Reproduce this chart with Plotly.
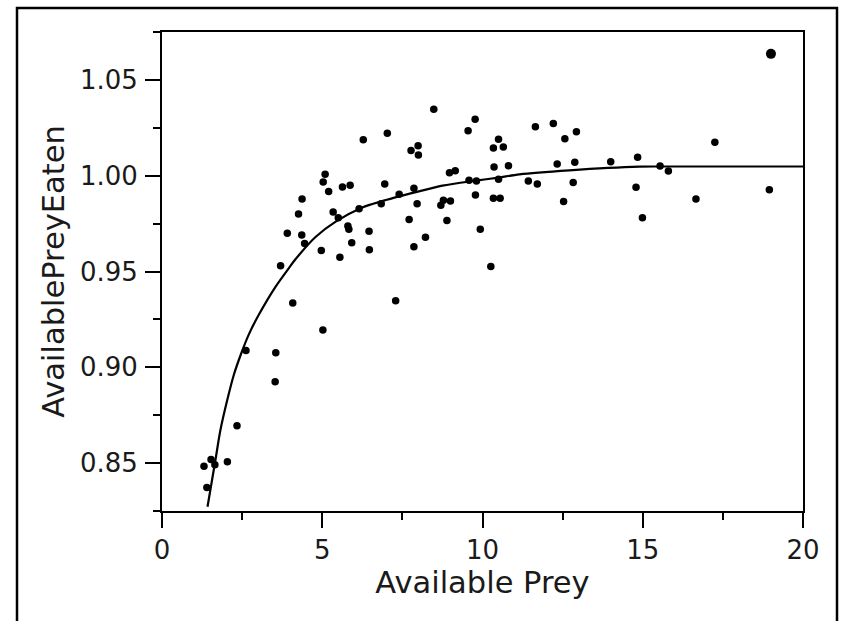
import plotly.graph_objects as go

# Scatter data: Available Prey (x) vs AvailablePreyEaten (y)
prey = [3.70, 3.91, 4.36, 4.45, 4.26, 4.37, 4.97, 5.55, 5.03, 5.09, 5.20, 5.34, 5.50, 5.63, 5.87,
        5.80, 5.83, 5.92, 6.15, 6.28, 6.46, 6.47, 6.95, 7.03, 6.84, 7.40, 7.86, 7.77, 7.99, 8.00,
        7.96, 7.71, 7.86, 8.22, 8.48, 8.70, 8.78, 9.00, 8.89, 8.97, 9.15, 9.55, 9.77, 9.58, 9.81,
        9.78, 9.93,
        10.26, 10.34, 10.50, 10.65, 10.36, 10.81, 10.50, 10.34, 10.55, 11.43, 11.71, 11.65, 12.21,
        12.57, 12.93, 12.33, 12.88, 12.83, 12.53, 14.00, 14.84, 14.79, 14.99, 15.54, 15.80, 16.66,
        17.25, 18.95, 19.00,
        1.31, 1.40, 1.53, 1.65, 2.04, 2.34, 2.62, 3.55, 3.53, 4.08, 5.02, 7.29]
eaten = [0.9530, 0.9700, 0.9690, 0.9646, 0.9800, 0.9879, 0.9610, 0.9575, 0.9967, 1.0007, 0.9917,
         0.9810, 0.9780, 0.9941, 0.9950, 0.9738, 0.9720, 0.9650, 0.9827, 1.0188, 0.9710, 0.9613,
         0.9957, 1.0221, 0.9854, 0.9903, 0.9934, 1.0132, 1.0156, 1.0108, 0.9854, 0.9771, 0.9629,
         0.9679, 1.0347, 0.9846, 0.9872, 0.9868, 0.9766, 1.0016, 1.0026, 1.0234, 1.0294, 0.9976,
         0.9972, 0.9899, 0.9720,
         0.9526, 1.0144, 1.0190, 1.0150, 1.0045, 1.0052, 0.9981, 0.9882, 0.9882, 0.9972, 0.9957,
         1.0255, 1.0273, 1.0193, 1.0229, 1.0061, 1.0070, 0.9964, 0.9865, 1.0073, 1.0096, 0.9940,
         0.9780, 1.0051, 1.0025, 0.9879, 1.0174, 0.9927, 1.0636,
         0.8484, 0.8372, 0.8519, 0.8491, 0.8507, 0.8695, 0.9088, 0.9076, 0.8925, 0.9335, 0.9195,
         0.9347]
highlighted = [19.00]  # the enlarged point

# Fitted curve
fit_x = [1.42, 1.67, 1.82, 2.03, 2.24, 2.50, 2.71, 3.02, 3.54, 3.96, 4.17, 4.79, 5.42, 6.25,
         6.84, 7.92, 8.75, 9.79, 10.50, 11.15, 12.71, 14.90, 15.54, 20.00]
fit_y = [0.8272, 0.8519, 0.8670, 0.8825, 0.8960, 0.9085, 0.9172, 0.9274, 0.9420, 0.9518, 0.9565,
         0.9680, 0.9760, 0.9834, 0.9866, 0.9914, 0.9948, 0.9974, 0.9990, 1.0007, 1.0028, 1.0047,
         1.0048, 1.0048]

x_ticks = [0, 5, 10, 15, 20]
y_ticks = [0.85, 0.90, 0.95, 1.00, 1.05]

sizes = [10 if x in highlighted else 7.5 for x in prey]

FONT = "DejaVu Sans"
W, H = 844, 621
L, R, T, B = 162, 41, 32, 110

fig = go.Figure()
fig.add_trace(go.Scatter(x=fit_x, y=fit_y, mode="lines",
                         line=dict(color="black", width=2.2, shape="spline", smoothing=0.8),
                         hoverinfo="skip", showlegend=False))
fig.add_trace(go.Scatter(x=prey, y=eaten, mode="markers",
                         marker=dict(color="black", size=sizes, opacity=1, line=dict(width=0)),
                         showlegend=False))

pw, ph = W - L - R, H - T - B
def px2paper_x(p):
    return (p - L) / pw
def px2paper_y(p):
    return (H - B - p) / ph

fig.add_shape(type="rect", xref="paper", yref="paper",
              x0=px2paper_x(17), x1=px2paper_x(837), y0=px2paper_y(640), y1=px2paper_y(8),
              line=dict(color="black", width=2.5), fillcolor="rgba(0,0,0,0)", layer="above")

fig.update_layout(
    width=W, height=H,
    margin=dict(l=L, r=R, t=T, b=B, pad=0),
    paper_bgcolor="white", plot_bgcolor="white",
    font=dict(family=FONT, color="#1a1a1a", size=26),
    xaxis=dict(range=[0, 20], tickvals=x_ticks, ticktext=[str(v) for v in x_ticks],
               showgrid=False, zeroline=False, showline=True, linecolor="black", linewidth=2,
               mirror=True, ticks="outside", ticklen=15, tickwidth=2, tickcolor="black",
               minor=dict(dtick=2.5, ticklen=7, tickwidth=2, tickcolor="black", ticks="outside", showgrid=False),
               tickfont=dict(size=26, family=FONT), ticklabelstandoff=0,
               title=dict(text="Available Prey", font=dict(size=30.5, family=FONT), standoff=6)),
    yaxis=dict(range=[0.825, 1.075], tickvals=y_ticks, ticktext=["%.2f" % v for v in y_ticks],
               showgrid=False, zeroline=False, showline=True, linecolor="black", linewidth=2,
               mirror=True, ticks="outside", ticklen=15, tickwidth=2, tickcolor="black",
               minor=dict(dtick=0.025, ticklen=7, tickwidth=2, tickcolor="black", ticks="outside", showgrid=False),
               tickfont=dict(size=26, family=FONT), ticklabelstandoff=2,
               title=dict(text="AvailablePreyEaten", font=dict(size=30.5, family=FONT), standoff=6)),
)

fig.write_html("out.html", config={"displayModeBar": False},
               post_script="document.body.style.margin='0';document.body.style.overflow='hidden';")
